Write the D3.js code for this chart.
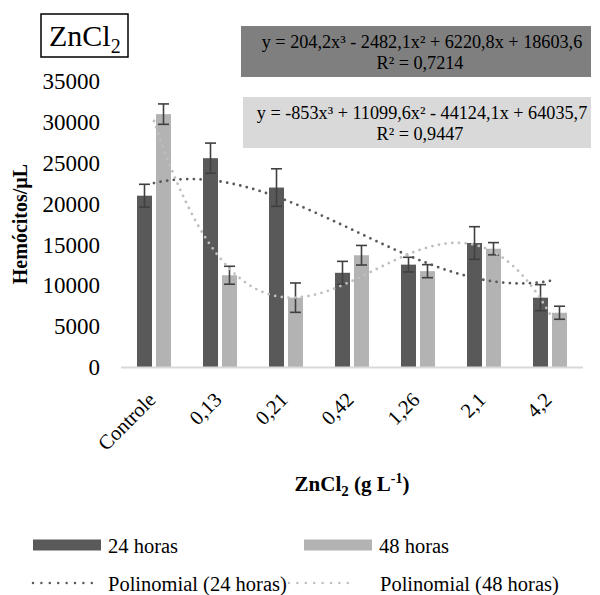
<!DOCTYPE html>
<html>
<head>
<meta charset="utf-8">
<script src="https://cdn.jsdelivr.net/npm/d3@7"></script>
<style>
  body { margin: 0; background: #fff; }
</style>
</head>
<body>
<svg id="chart" width="600" height="595" font-family="'Liberation Serif', 'Times New Roman', 'DejaVu Serif', serif"></svg>
<script>
// data
const categories = ["Controle", "0,13", "0,21", "0,42", "1,26", "2,1", "4,2"];
const series = ["24 horas", "48 horas"];
const values24 = [21000, 25600, 22000, 11550, 12550, 15200, 8500];
const values48 = [31000, 11250, 8500, 13700, 11750, 14500, 6650];
const err24 = [1400, 1850, 2300, 1400, 900, 2000, 1600];
const err48 = [1250, 1100, 1800, 1200, 800, 750, 800];
const yTicks = [0, 5000, 10000, 15000, 20000, 25000, 30000, 35000];
// trendline coefficients (x^3, x^2, x, 1), as printed on the chart
const coef24 = [204.2, -2482.1, 6220.8, 18603.6];
const coef48 = [-853, 11099.6, -44124.1, 64035.7];
const eq24 = ["y = 204,2x³ - 2482,1x² + 6220,8x + 18603,6", "R² = 0,7214"];
const eq48 = ["y = -853x³ + 11099,6x² - 44124,1x + 64035,7", "R² = 0,9447"];

const FONT = "'Liberation Serif', 'Times New Roman', 'DejaVu Serif', serif";
const colors = { "24 horas": "#595959", "48 horas": "#b3b3b3" };
const trendColors = { "24 horas": "#595959", "48 horas": "#bfbfbf" };

const svg = d3.select("#chart");

const x = d3.scaleBand().domain(categories).range([121, 583]);
const xInner = d3.scaleBand().domain(series)
    .range([x.bandwidth() / 2 - 17, x.bandwidth() / 2 + 17])
    .paddingInner(0.21);
const y = d3.scaleLinear().domain([0, 35000]).range([367, 81.5]);
// trendline x runs 1..7 at category centres
const xt = d3.scaleLinear().domain([1, 7])
    .range([x(categories[0]) + x.bandwidth() / 2, x(categories[6]) + x.bandwidth() / 2]);

// y axis labels, no line or ticks
const yAxis = svg.append("g")
    .attr("transform", "translate(100,0)")
    .call(d3.axisLeft(y).tickValues(yTicks).tickSize(0).tickPadding(0).tickFormat(d3.format("d")));
yAxis.attr("font-family", FONT).attr("font-size", 23);
yAxis.select(".domain").remove();
yAxis.selectAll("text").attr("fill", "#000");

// bars
const rows = categories.map((c, i) => ({
    cat: c,
    items: [
        { s: "24 horas", v: values24[i], e: err24[i] },
        { s: "48 horas", v: values48[i], e: err48[i] }
    ]
}));

const groups = svg.append("g").selectAll("g")
    .data(rows)
    .join("g")
    .attr("transform", d => `translate(${x(d.cat)},0)`);

groups.selectAll("rect")
    .data(d => d.items)
    .join("rect")
    .attr("x", d => xInner(d.s))
    .attr("width", xInner.bandwidth())
    .attr("y", d => y(d.v))
    .attr("height", d => y(0) - y(d.v))
    .attr("fill", d => colors[d.s]);

// error bars
const eb = groups.selectAll("g.err")
    .data(d => d.items)
    .join("g")
    .attr("class", "err")
    .attr("stroke", "#404040")
    .attr("stroke-width", 1.6);
eb.append("line")
    .attr("x1", d => xInner(d.s) + xInner.bandwidth() / 2)
    .attr("x2", d => xInner(d.s) + xInner.bandwidth() / 2)
    .attr("y1", d => y(d.v - d.e))
    .attr("y2", d => y(d.v + d.e));
eb.selectAll("line.cap")
    .data(d => [{ d: d, v: d.v - d.e }, { d: d, v: d.v + d.e }])
    .join("line")
    .attr("class", "cap")
    .attr("x1", p => xInner(p.d.s) + xInner.bandwidth() / 2 - 5.5)
    .attr("x2", p => xInner(p.d.s) + xInner.bandwidth() / 2 + 5.5)
    .attr("y1", p => y(p.v))
    .attr("y2", p => y(p.v));

// x axis line
svg.append("line")
    .attr("x1", 121).attr("x2", 583)
    .attr("y1", y(0) + 0.5).attr("y2", y(0) + 0.5)
    .attr("stroke", "#d9d9d9")
    .attr("stroke-width", 2);

// trendlines
const poly = c => t => c[0] * t * t * t + c[1] * t * t + c[2] * t + c[3];
const line = d3.line().x(d => xt(d[0])).y(d => y(d[1]));
[["24 horas", coef24], ["48 horas", coef48]].forEach(([s, c]) => {
    const f = poly(c);
    const pts = d3.range(1, 7.001, 0.05).map(t => [t, f(t)]);
    svg.append("path")
        .datum(pts)
        .attr("d", line)
        .attr("fill", "none")
        .attr("stroke", trendColors[s])
        .attr("stroke-width", 2.8)
        .attr("stroke-linecap", "round")
        .attr("stroke-dasharray", "0 6.7");
});

// x labels
svg.append("g").selectAll("text")
    .data(categories)
    .join("text")
    .attr("transform", d => `translate(${x(d) + x.bandwidth() / 2 + 3},401) rotate(-45)`)
    .attr("text-anchor", "end")
    .attr("font-size", 20.5)
    .text(d => d);

// axis titles
svg.append("text")
    .attr("transform", "translate(27,224) rotate(-90)")
    .attr("text-anchor", "middle")
    .attr("font-size", 20)
    .attr("font-weight", "bold")
    .text("Hemócitos/µL");

const xt2 = svg.append("text")
    .attr("x", 352).attr("y", 491)
    .attr("text-anchor", "middle")
    .attr("font-size", 21)
    .attr("font-weight", "bold");
xt2.append("tspan").text("ZnCl");
xt2.append("tspan").attr("font-size", 15).attr("dy", 5).text("2");
xt2.append("tspan").attr("dy", -5).text(" (g L");
xt2.append("tspan").attr("font-size", 14).attr("dy", -8).text("-1");
xt2.append("tspan").attr("dy", 8).text(")");

// title box
svg.append("rect")
    .attr("x", 41).attr("y", 14).attr("width", 87).attr("height", 43)
    .attr("fill", "#fff").attr("stroke", "#000").attr("stroke-width", 1.5);
const tt = svg.append("text").attr("x", 49).attr("y", 46).attr("font-size", 30);
tt.append("tspan").text("ZnCl");
tt.append("tspan").attr("font-size", 20).attr("dy", 7).text("2");

// equation boxes
function eqBox(x0, y0, w, h, fill, lines, b1, b2) {
    svg.append("rect").attr("x", x0).attr("y", y0).attr("width", w).attr("height", h).attr("fill", fill);
    svg.append("text").attr("x", 422).attr("y", b1).attr("text-anchor", "middle").attr("font-size", 18.2).text(lines[0]);
    svg.append("text").attr("x", 420).attr("y", b2).attr("text-anchor", "middle").attr("font-size", 18.2).text(lines[1]);
}
eqBox(241, 26, 350, 51, "#7f7f7f", eq24, 47.5, 69);
eqBox(243, 97, 348, 51, "#d9d9d9", eq48, 119, 139.5);

// legend
const legend = svg.append("g");
const legItems = [
    { s: "24 horas", label: "24 horas", type: "bar", x: 33, y: 545 },
    { s: "48 horas", label: "48 horas", type: "bar", x: 304, y: 545 },
    { s: "24 horas", label: "Polinomial (24 horas)", type: "trend", x: 33, y: 583 },
    { s: "48 horas", label: "Polinomial (48 horas)", type: "trend", x: 289, y: 583 }
];
legItems.forEach(d => {
    if (d.type === "bar") {
        legend.append("rect").attr("x", d.x).attr("y", d.y - 5.5).attr("width", 68).attr("height", 11)
            .attr("fill", colors[d.s]);
    } else {
        legend.append("line").attr("x1", d.x).attr("x2", d.x + 67).attr("y1", d.y).attr("y2", d.y)
            .attr("stroke", trendColors[d.s]).attr("stroke-width", 2.5)
            .attr("stroke-linecap", "round").attr("stroke-dasharray", "0 8.4");
    }
    legend.append("text")
        .attr("x", d.type === "bar" ? d.x + 75 : d.x + (d.x === 33 ? 75 : 91))
        .attr("y", d.y + 8)
        .attr("font-size", 20.5)
        .text(d.label);
});
</script>
</body>
</html>
